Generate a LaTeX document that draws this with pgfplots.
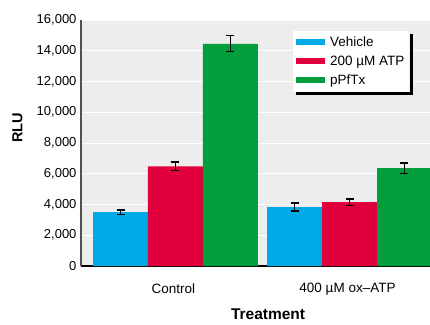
\documentclass[border=0pt]{standalone}
\usepackage{pgfplots}
\pgfplotsset{compat=1.18}
\usepackage{fontspec}
\setmainfont{Liberation Sans}
\definecolor{cblue}{RGB}{0,170,231}
\definecolor{cred}{RGB}{224,0,60}
\definecolor{cgreen}{RGB}{0,158,61}
\definecolor{bggray}{RGB}{237,237,237}
\definecolor{axgray}{RGB}{80,80,80}
\begin{document}
\begin{tikzpicture}
\begin{axis}[
  scale only axis,
  width=349pt, height=246pt,
  xmin=-0.543, xmax=1.4626,
  ymin=0, ymax=16000,
  axis x line=bottom, axis y line=left,
  axis line style={-},
  x axis line style={black, line width=1.6pt},
  y axis line style={axgray, line width=1.6pt},
  axis background/.style={fill=bggray},
  ymajorgrids, grid style={white, line width=1pt},
  major tick length=0pt,
  xtick={0,1}, xticklabels={Control, 400 µM ox–ATP},
  xticklabel style={font=\fontsize{13.5}{14}\selectfont, yshift=-14pt, xshift=-2pt},
  ytick={0,2000,...,16000},
  scaled y ticks=false,
  yticklabel style={font=\fontsize{13}{14}\selectfont, /pgf/number format/1000 sep={,}, /pgf/number format/assume math mode=true, xshift=-1pt},
  ylabel={RLU},
  ylabel style={font=\bfseries\fontsize{14.5}{15}\selectfont, at={(axis description cs:-0.182,0.561)}, anchor=center, rotate=0},
  xlabel={Treatment},
  xlabel style={font=\bfseries\fontsize{15.5}{16}\selectfont, at={(axis description cs:0.536,-0.198)}, anchor=center},
  ybar, bar width=0.316,
  legend image code/.code={\fill[#1,draw=none] (0pt,-3pt) rectangle (29pt,3pt);},
  legend style={name=leg, at={(axis description cs:0.607,0.956)}, anchor=north west, draw=none, fill=white,
    font=\fontsize{13.5}{14}\selectfont, cells={anchor=west}, row sep=4pt, column sep=3pt, inner xsep=3pt, inner ysep=3.5pt},
  error bars/y dir=both, error bars/y explicit,
  error bars/error bar style={black, line width=1.3pt},
  error bars/error mark options={rotate=90, mark size=4pt, line width=1.3pt, black},
]
\addplot[fill=cblue, draw=none, bar shift=-0.316] coordinates {(0,3500) +- (0,150) (1,3830) +- (0,260)};
\addplot[fill=cred, draw=none, bar shift=0] coordinates {(0,6480) +- (0,280) (1,4150) +- (0,200)};
\addplot[fill=cgreen, draw=none, bar shift=0.316] coordinates {(0,14450) +- (0,520) (1,6360) +- (0,340)};
\legend{Vehicle, 200 µM ATP, pPfTx}
\end{axis}
\fill[black] ([yshift=-3.5pt]leg.north east) rectangle ([shift={(3.5pt,-3.5pt)}]leg.south east);
\fill[black] ([xshift=3.5pt]leg.south west) rectangle ([shift={(3.5pt,-3.5pt)}]leg.south east);
\pgfresetboundingbox
\path ([xshift=-81pt,yshift=-58pt]current axis.south west) rectangle ([yshift=20pt]current axis.north east);
\end{tikzpicture}
\end{document}
